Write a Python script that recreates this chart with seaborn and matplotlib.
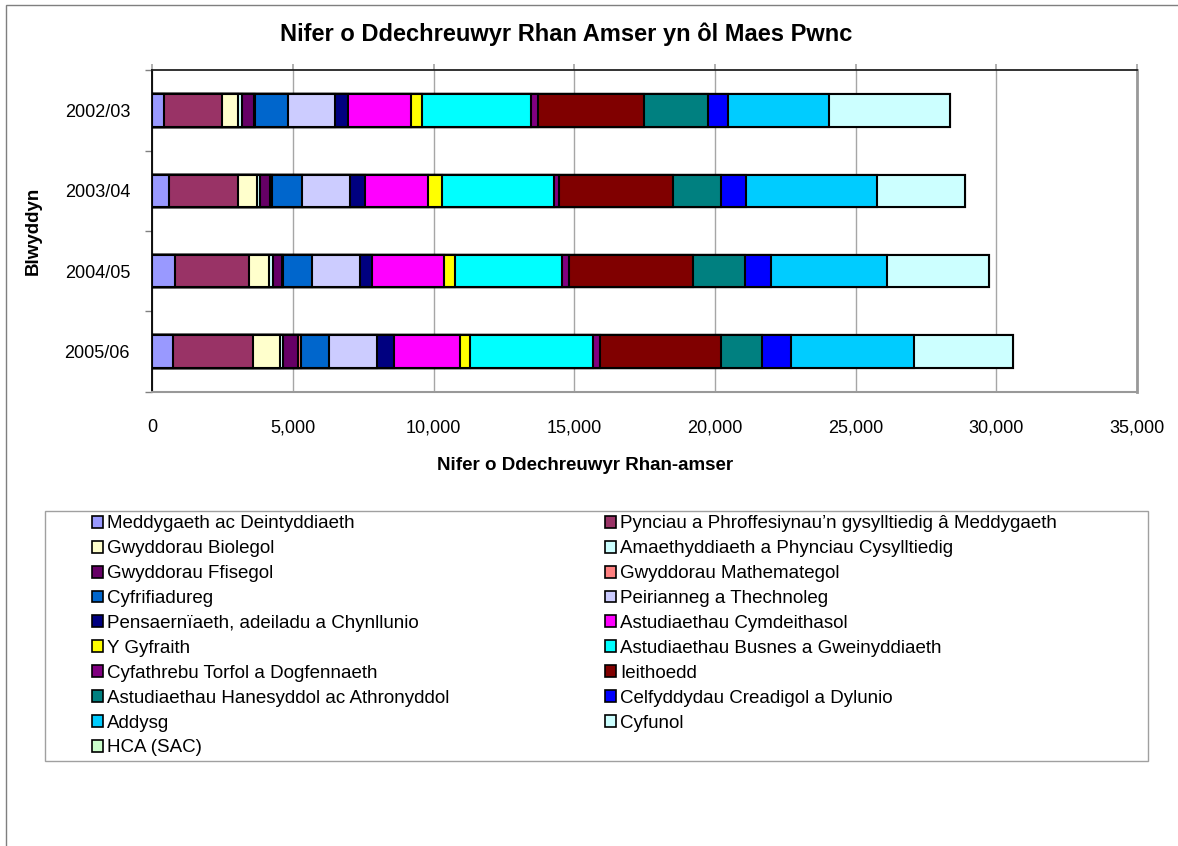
#!/usr/bin/env python3
"""
Stacked horizontal bars: part-time starters by subject area, per year.
"""

import matplotlib.pyplot as plt
import numpy as np
import pandas as pd
import seaborn as sns
from matplotlib.patches import Patch, Rectangle
from matplotlib.ticker import FuncFormatter, FixedLocator

years = ["2002/03", "2003/04", "2004/05", "2005/06"]

subjects = [
    "Meddygaeth ac Deintyddiaeth",
    "Pynciau a Phroffesiynau’n gysylltiedig â Meddygaeth",
    "Gwyddorau Biolegol",
    "Amaethyddiaeth a Phynciau Cysylltiedig",
    "Gwyddorau Ffisegol",
    "Gwyddorau Mathemategol",
    "Cyfrifiadureg",
    "Peirianneg a Thechnoleg",
    "Pensaernïaeth, adeiladu a Chynllunio",
    "Astudiaethau Cymdeithasol",
    "Y Gyfraith",
    "Astudiaethau Busnes a Gweinyddiaeth",
    "Cyfathrebu Torfol a Dogfennaeth",
    "Ieithoedd",
    "Astudiaethau Hanesyddol ac Athronyddol",
    "Celfyddydau Creadigol a Dylunio",
    "Addysg",
    "Cyfunol",
    "HCA (SAC)",
]

colours = [
    "#9999FF", "#993366", "#FFFFCC", "#CCFFFF", "#660066", "#FF8080",
    "#0066CC", "#CCCCFF", "#000080", "#FF00FF", "#FFFF00", "#00FFFF",
    "#800080", "#800000", "#008080", "#0000FF", "#00CCFF", "#CCFFFF",
    "#CCFFCC",
]

# values, one list per year in subject order
vals_2002 = [415, 2045, 590, 155, 400, 30, 1200, 1645, 475, 2225, 415, 3880, 235, 3750, 2305, 715, 3575, 4300, 0]
vals_2003 = [595, 2435, 695, 95, 380, 50, 1065, 1700, 530, 2260, 485, 3975, 200, 4055, 1695, 900, 4630, 3130, 0]
vals_2004 = [805, 2625, 735, 135, 315, 40, 1035, 1700, 430, 2565, 390, 3785, 260, 4415, 1840, 920, 4120, 3625, 0]
vals_2005 = [745, 2840, 945, 130, 520, 100, 990, 1715, 595, 2365, 330, 4375, 275, 4295, 1435, 1045, 4360, 3540, 0]

W, H = 1178, 846


def main() -> None:
    rows = []
    for yr, vals in zip(years, [vals_2002, vals_2003, vals_2004, vals_2005]):
        for subj, v in zip(subjects, vals):
            rows.append({"year": yr, "subject": subj, "value": v})
    df = pd.DataFrame(rows)
    df["cum"] = df.groupby("year")["value"].cumsum()

    sns.set_theme(style="white")
    plt.rcParams["font.family"] = ["Liberation Sans", "DejaVu Sans"]
    plt.rcParams["text.color"] = "black"
    plt.rcParams["xtick.labelcolor"] = "black"
    plt.rcParams["ytick.labelcolor"] = "black"

    fig = plt.figure(figsize=(W / 100, H / 100), dpi=100)
    ax = fig.add_axes([152.3 / W, 1 - 391.7 / H, (1137 - 152.3) / W, (391.7 - 70.3) / H])

    # draw longest cumulative first so shorter ones sit on top
    for subj, col in zip(reversed(subjects), reversed(colours)):
        sub = df[df["subject"] == subj]
        sns.barplot(
            data=sub, x="cum", y="year", order=years, orient="h",
            color=col, saturation=1, width=0.4, edgecolor="black",
            linewidth=1.5, errorbar=None, ax=ax,
        )

    ax.set_xlim(0, 35000)
    ax.set_ylim(3.5, -0.5)
    ax.xaxis.set_major_locator(FixedLocator(np.arange(0, 35001, 5000)))
    ax.xaxis.set_major_formatter(FuncFormatter(lambda v, p: f"{int(v):,}"))
    ax.set_axisbelow(True)
    ax.grid(axis="x", color="#A6A6A6", lw=1)
    ax.grid(axis="y", visible=False)
    ax.set_xlabel("")
    ax.set_ylabel("")

    ax.tick_params(axis="x", which="major", bottom=False, top=True, length=4,
                   color="#A6A6A6", labelcolor="black", labelsize=13, pad=16,
                   labelbottom=True, labeltop=False)
    ax.tick_params(axis="y", which="major", left=False, labelcolor="black", labelsize=13, pad=10)
    ax.yaxis.set_minor_locator(FixedLocator([-0.5, 0.5, 1.5, 2.5, 3.5]))
    ax.tick_params(axis="y", which="minor", left=True, length=5, color="#808080", width=1)

    ax.spines["left"].set_color("black")
    ax.spines["left"].set_linewidth(1.3)
    ax.spines["top"].set_color("#222222")
    ax.spines["top"].set_linewidth(1.3)
    ax.spines["right"].set_color("#999999")
    ax.spines["right"].set_linewidth(2)
    ax.spines["bottom"].set_color("#999999")
    ax.spines["bottom"].set_linewidth(1.5)

    fig.text(566 / W, 1 - 34 / H, "Nifer o Ddechreuwyr Rhan Amser yn ôl Maes Pwnc",
             ha="center", va="center", fontsize=17, fontweight="bold", color="black")
    fig.text(585 / W, 1 - 465 / H, "Nifer o Ddechreuwyr Rhan-amser",
             ha="center", va="center", fontsize=13.5, fontweight="bold", color="black")
    fig.text(33 / W, 1 - 231 / H, "Blwyddyn", rotation=90,
             ha="center", va="center", fontsize=13.5, fontweight="bold", color="black")

    # outer chart border (runs off right / bottom edge)
    fig.patches.append(Rectangle((6 / W, -0.05), 1.2, 1.05 - 5 / H, transform=fig.transFigure,
                                 fill=False, edgecolor="#7F7F7F", lw=1))
    # legend frame
    fig.patches.append(Rectangle((45.5 / W, 1 - 761 / H), (1148 - 45.5) / W, (761 - 511) / H,
                                 transform=fig.transFigure, fill=False, edgecolor="#A0A0A0", lw=1))

    handles = [Patch(facecolor=c, edgecolor="black", lw=1.2, label=s) for s, c in zip(subjects, colours)]
    order = list(range(0, len(handles), 2)) + list(range(1, len(handles), 2))
    fig.legend(
        [handles[i] for i in order], [subjects[i] for i in order],
        loc="upper left", bbox_to_anchor=(92 / W, 1 - 515.5 / H), ncol=2,
        frameon=False, fontsize=13.5, borderpad=0, borderaxespad=0,
        handlelength=0.6, handleheight=0.6, handletextpad=0.2,
        labelspacing=0.42, columnspacing=8.3, labelcolor="black",
    )

    fig.savefig("out.png", dpi=100)
    plt.close(fig)


if __name__ == "__main__":
    main()
